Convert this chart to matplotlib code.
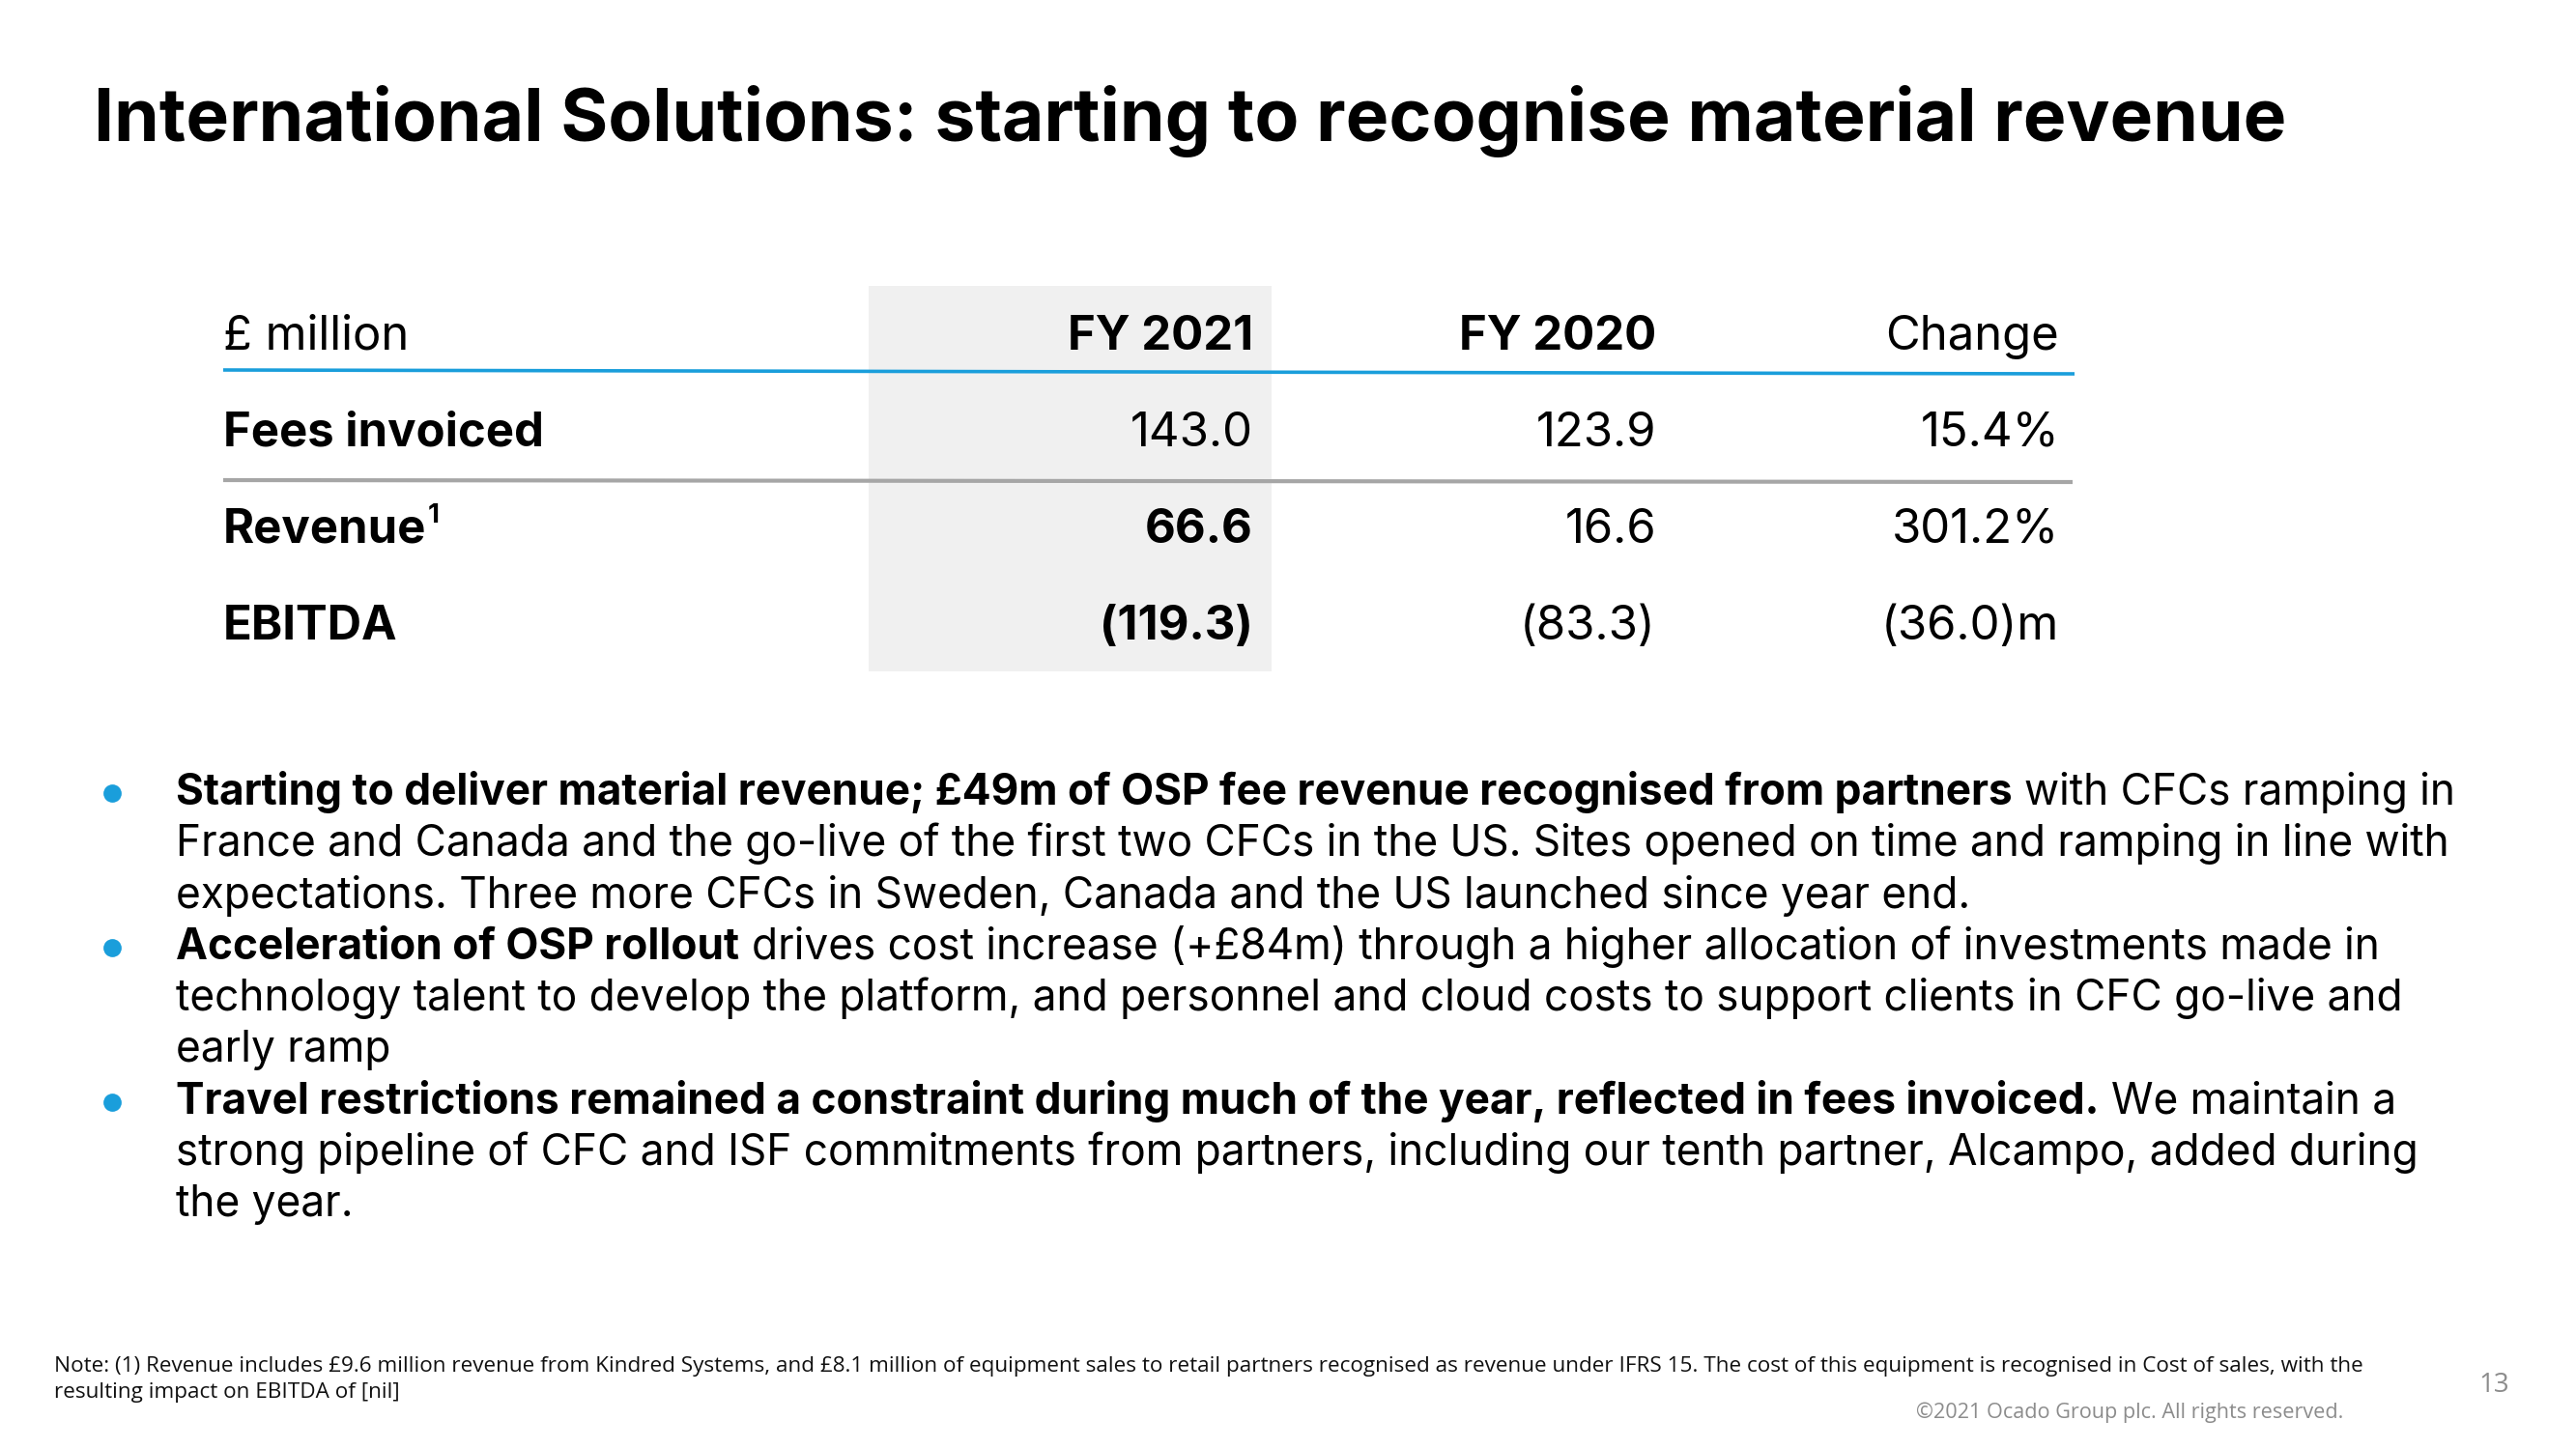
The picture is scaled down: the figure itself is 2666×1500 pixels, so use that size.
import matplotlib.pyplot as plt
from matplotlib.patches import Rectangle

# ---- data
title = "International Solutions: starting to recognise material revenue"
columns = ["£ million", "FY 2021", "FY 2020", "Change"]
row_labels = ["Fees invoiced", "Revenue", "EBITDA"]
fy2021 = ["143.0", "66.6", "(119.3)"]
fy2020 = ["123.9", "16.6", "(83.3)"]
change = ["15.4%", "301.2%", "(36.0)m"]
fy2021_bold = [False, True, True]

bullets = [
    [
        [("Starting to deliver material revenue; £49m of OSP fee revenue recognised from partners", True),
         ("with CFCs ramping in", False)],
        [("France and Canada and the go-live of the first two CFCs in the US. Sites opened on time and ramping in line with", False)],
        [("expectations. Three more CFCs in Sweden, Canada and the US launched since year end.", False)],
    ],
    [
        [("Acceleration of OSP rollout", True),
         ("drives cost increase (+£84m) through a higher allocation of investments made in", False)],
        [("technology talent to develop the platform, and personnel and cloud costs to support clients in CFC go-live and", False)],
        [("early ramp", False)],
    ],
    [
        [("Travel restrictions remained a constraint during much of the year, reflected in fees invoiced.", True),
         ("We maintain a", False)],
        [("strong pipeline of CFC and ISF commitments from partners, including our tenth partner, Alcampo, added during", False)],
        [("the year.", False)],
    ],
]

note_lines = [
    "Note: (1) Revenue includes £9.6 million revenue from Kindred Systems, and £8.1 million of equipment sales to retail "
    "partners recognised as revenue under IFRS 15. The cost of this equipment is recognised in Cost of sales, with the",
    "resulting impact on EBITDA of [nil]",
]
page_no = "13"
copyright_txt = "©2021 Ocado Group plc. All rights reserved."

BLUE = "#1a9edb"
FONT = "Inter"

# ---- canvas in pixel units
W, H = 2666, 1500
fig = plt.figure(figsize=(W / 100, H / 100), dpi=100)
ax = fig.add_axes([0, 0, 1, 1])
ax.set_xlim(0, W)
ax.set_ylim(H, 0)
ax.axis("off")
renderer = fig.canvas.get_renderer()


def text_width(t):
    bb = t.get_window_extent(renderer=renderer)
    return bb.width


ax.text(97, 146, title, fontsize=54, fontweight="bold", family=FONT,
        va="baseline", ha="left", color="black")

# ---- table
ax.add_patch(Rectangle((899, 296), 417, 399, facecolor="#f0f0f0", edgecolor="none", zorder=0))

col_right = [None, 1297, 1714, 2131]
header_y = 362
row_h = 100
tfs = 35.3

ax.text(231, header_y, columns[0], fontsize=tfs, family=FONT, va="baseline", ha="left")
ax.text(col_right[1], header_y, columns[1], fontsize=tfs, family=FONT, fontweight="bold", va="baseline", ha="right")
ax.text(col_right[2], header_y, columns[2], fontsize=tfs, family=FONT, fontweight="bold", va="baseline", ha="right")
ax.text(col_right[3], header_y, columns[3], fontsize=tfs, family=FONT, va="baseline", ha="right")

ax.plot([231, 2147], [383, 387], color=BLUE, lw=2.6, solid_capstyle="butt")
ax.plot([231, 2145], [497, 499], color="#a6a6a6", lw=3, solid_capstyle="butt")

for i, lab in enumerate(row_labels):
    y = header_y + row_h * (i + 1)
    t = ax.text(231, y, lab, fontsize=tfs, family=FONT, fontweight="bold", va="baseline", ha="left")
    if lab == "Revenue":
        w = text_width(t)
        ax.text(231 + w + 1, y - 21, "1", fontsize=20, family=FONT, fontweight="bold",
                va="baseline", ha="left")
    ax.text(col_right[1], y, fy2021[i], fontsize=tfs, family=FONT,
            fontweight="bold" if fy2021_bold[i] else "normal", va="baseline", ha="right")
    ax.text(col_right[2], y, fy2020[i], fontsize=tfs, family=FONT, va="baseline", ha="right")
    ax.text(col_right[3], y, change[i], fontsize=tfs, family=FONT, va="baseline", ha="right")

# ---- bullets
bfs = 31.8
x0 = 182
y0 = 833
lh = 53.3
probe1 = ax.text(0, -100, "x x", fontsize=bfs, family=FONT)
probe2 = ax.text(0, -100, "xx", fontsize=bfs, family=FONT)
space_w = text_width(probe1) - text_width(probe2)
probe1.remove()
probe2.remove()

k = 0
for b in bullets:
    ax.plot([116], [y0 + k * lh - 12], "o", color=BLUE, markersize=13.5, markeredgewidth=0)
    for line in b:
        y = y0 + k * lh
        x = x0
        for j, (seg, bold) in enumerate(line):
            if j > 0:
                x += space_w
            t = ax.text(x, y, seg, fontsize=bfs, family=FONT,
                        fontweight="bold" if bold else "normal", va="baseline", ha="left")
            x += text_width(t)
        k += 1

# ---- footer
for i, nl in enumerate(note_lines):
    ax.text(56, 1420 + i * 27, nl, fontsize=16.2, family="Open Sans", va="baseline", ha="left", color="#111111")
ax.text(2581, 1441, page_no, fontsize=20, family="Open Sans", va="baseline", ha="center", color="#8c8c8c")
ax.text(2425, 1468, copyright_txt, fontsize=15.6, family="Open Sans", va="baseline", ha="right", color="#8c8c8c")

fig.savefig("out.png", dpi=100, facecolor="white")
